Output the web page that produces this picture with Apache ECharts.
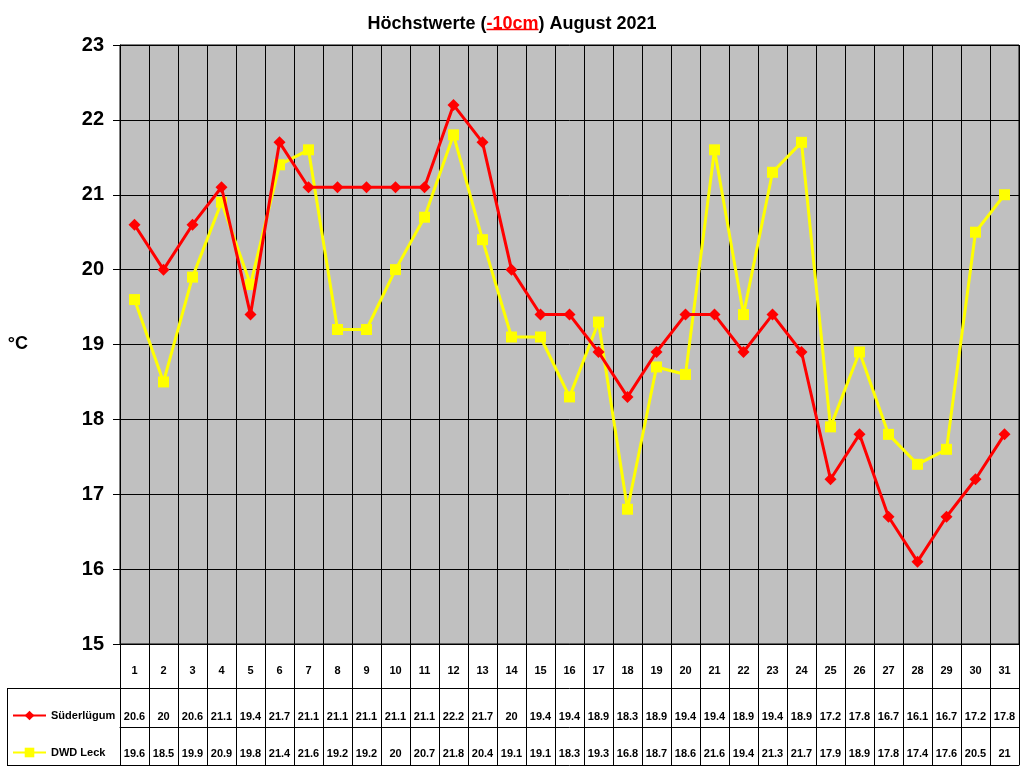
<!DOCTYPE html>
<html>
<head>
<meta charset="utf-8">
<script src="https://cdn.jsdelivr.net/npm/echarts@6/dist/echarts.min.js"></script>
<style>
  html, body { margin: 0; padding: 0; background: #fff; }
  #main { width: 1024px; height: 768px; }
</style>
</head>
<body>
<div id="main"></div>
<script>
// Tage im August
var days = ['1','2','3','4','5','6','7','8','9','10','11','12','13','14','15','16',
  '17','18','19','20','21','22','23','24','25','26','27','28','29','30','31'];

// Höchstwerte -10cm
var suederluegum = [20.6, 20, 20.6, 21.1, 19.4, 21.7, 21.1, 21.1, 21.1, 21.1, 21.1, 22.2, 21.7, 20, 19.4, 19.4,
  18.9, 18.3, 18.9, 19.4, 19.4, 18.9, 19.4, 18.9, 17.2, 17.8, 16.7, 16.1, 16.7, 17.2, 17.8];
var dwdLeck = [19.6, 18.5, 19.9, 20.9, 19.8, 21.4, 21.6, 19.2, 19.2, 20, 20.7, 21.8, 20.4, 19.1, 19.1, 18.3,
  19.3, 16.8, 18.7, 18.6, 21.6, 19.4, 21.3, 21.7, 17.9, 18.9, 17.8, 17.4, 17.6, 20.5, 21];

var yMin = 15, yMax = 23, yStep = 1;

var FONT = '"Liberation Sans", Arial, sans-serif';

/********** Titel-Unterstreichung ausmessen **********/
var ctx = document.createElement('canvas').getContext('2d');
ctx.font = 'bold 18px ' + FONT;
var t1 = 'Höchstwerte (', t2 = '-10cm', t3 = ') August 2021';
var w1 = ctx.measureText(t1).width, w2 = ctx.measureText(t2).width, w3 = ctx.measureText(t3).width;
var tStart = 512 - (w1 + w2 + w3) / 2;

var myChart = echarts.init(document.getElementById('main'));

// Tabellenzeile als x-Achse unter dem Diagramm
function tableAxis(values, offset, tickLen, margin) {
  return {
    type: 'category',
    data: days,
    gridIndex: 0,
    position: 'bottom',
    offset: offset,
    boundaryGap: true,
    axisLine: { show: true, lineStyle: { color: '#000', width: 1 } },
    axisTick: { show: tickLen > 0, interval: 0, length: tickLen, lineStyle: { color: '#000', width: 1 } },
    axisLabel: {
      show: !!values, interval: 0, margin: margin, color: '#000',
      fontFamily: FONT, fontWeight: 'bold', fontSize: 11,
      formatter: function (v, i) { return values ? String(values[i]) : ''; }
    },
    splitLine: { show: false }
  };
}

var option = {
  backgroundColor: '#ffffff',
  animation: false,
  title: {
    text: '{a|' + t1 + '}{r|' + t2 + '}{a|' + t3 + '}',
    left: 'center',
    top: 10,
    textStyle: {
      rich: {
        a: { fontFamily: FONT, fontWeight: 'bold', fontSize: 18, color: '#000' },
        r: { fontFamily: FONT, fontWeight: 'bold', fontSize: 18, color: '#ff0000' }
      }
    }
  },
  legend: {
    orient: 'vertical',
    left: 12,
    top: 710,
    padding: 0,
    itemWidth: 33,
    itemHeight: 12,
    itemGap: 26,
    textStyle: { fontFamily: FONT, fontWeight: 'bold', fontSize: 11, color: '#000' },
    data: ['Süderlügum', 'DWD Leck']
  },
  grid: {
    left: 120, right: 5, top: 45, bottom: 124,
    show: true, backgroundColor: '#c0c0c0', borderColor: '#000', borderWidth: 1
  },
  xAxis: [
    {
      type: 'category',
      data: days,
      boundaryGap: true,
      position: 'bottom',
      axisLine: { show: true, lineStyle: { color: '#000', width: 1 } },
      axisTick: { show: true, interval: 0, length: 44, lineStyle: { color: '#000' } },
      axisLabel: { interval: 0, margin: 21, color: '#000', fontFamily: FONT, fontWeight: 'bold', fontSize: 11 },
      splitLine: { show: true, interval: 0, lineStyle: { color: '#000', width: 1 } }
    },
    tableAxis(suederluegum, 44, 39, 23),
    tableAxis(dwdLeck, 83, 38, 21),
    tableAxis(null, 121, 0, 0)
  ],
  yAxis: {
    type: 'value',
    min: yMin, max: yMax, interval: yStep,
    name: '°C',
    nameLocation: 'middle',
    nameRotate: 0,
    nameGap: 92,
    nameTextStyle: { fontFamily: FONT, fontWeight: 'bold', fontSize: 18, color: '#000' },
    axisLine: { show: true, lineStyle: { color: '#000' } },
    axisTick: { show: true, length: 7, lineStyle: { color: '#000' } },
    axisLabel: { margin: 16, color: '#000', fontFamily: FONT, fontWeight: 'bold', fontSize: 20 },
    splitLine: { show: true, lineStyle: { color: '#000', width: 1 } }
  },
  series: [
    {
      name: 'Süderlügum',
      type: 'line',
      xAxisIndex: 0,
      data: suederluegum,
      symbol: 'diamond',
      symbolSize: 12,
      lineStyle: { color: '#ff0000', width: 3 },
      itemStyle: { color: '#ff0000' },
      z: 3
    },
    {
      name: 'DWD Leck',
      type: 'line',
      xAxisIndex: 0,
      data: dwdLeck,
      symbol: 'rect',
      symbolSize: 11,
      lineStyle: { color: '#ffff00', width: 3 },
      itemStyle: { color: '#ffff00' },
      z: 2
    }
  ],
  graphic: [
    // Unterstreichung "-10cm"
    { type: 'line', shape: { x1: tStart + w1, y1: 29.5, x2: tStart + w1 + w2, y2: 29.5 },
      style: { stroke: '#ff0000', lineWidth: 1.5 } },
    // linker Teil der Datentabelle
    { type: 'line', shape: { x1: 7, y1: 688.5, x2: 120, y2: 688.5 }, style: { stroke: '#000', lineWidth: 1 } },
    { type: 'line', shape: { x1: 7, y1: 765.5, x2: 120, y2: 765.5 }, style: { stroke: '#000', lineWidth: 1 } },
    { type: 'line', shape: { x1: 7.5, y1: 688, x2: 7.5, y2: 766 }, style: { stroke: '#000', lineWidth: 1 } }
  ]
};

myChart.setOption(option);
</script>
</body>
</html>
